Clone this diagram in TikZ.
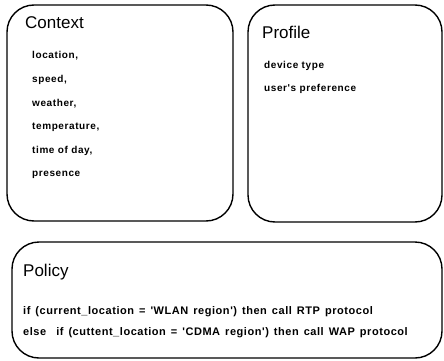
\documentclass[tikz,border=0pt]{standalone}
\usepackage{fontspec}
\setmainfont{Liberation Sans}
\newfontfamily\spacedfont[LetterSpace=6]{Liberation Sans}
\newfontfamily\polfont[LetterSpace=5]{Liberation Sans}
\newcommand\polspacing{\spaceskip=5pt plus 1pt\relax}
\begin{document}
\begin{tikzpicture}[x=1pt,y=-1pt,
  panel/.style={draw=black,line width=1.4pt,rounded corners=27pt},
  ttl/.style={anchor=base west,inner sep=0pt,font=\fontsize{17}{20}\selectfont},
  itm/.style={anchor=base west,inner sep=0pt,font=\spacedfont\fontsize{10}{12}\selectfont\bfseries},
  pol/.style={anchor=base west,inner sep=0pt,font=\polfont\fontsize{11}{13}\selectfont\bfseries\polspacing}]
\useasboundingbox (0,0) rectangle (444,361);
\draw[panel] (7,5) rectangle (233,221);
\draw[panel] (248,5) rectangle (442,222);
\draw[panel] (12,242) rectangle (442,358);
\node[ttl] (ctx) at (25,29) {Context};
\node[itm] (c1) at (32,59) {location,};
\node[itm] (c2) at (32,82.5) {speed,};
\node[itm] (c3) at (32,106) {weather,};
\node[itm] (c4) at (32,129.5) {temperature,};
\node[itm] (c5) at (32,153) {time of day,};
\node[itm] (c6) at (32,176) {presence};
\node[ttl] (prof) at (262,38) {Profile};
\node[itm] (p1) at (264,68) {device type};
\node[itm] (p2) at (264,91) {user's preference};
\node[ttl] (poli) at (23,276) {Policy};
\node[pol] (r1) at (23,314) {if (current\_location = 'WLAN region') then call RTP protocol};
\node[pol] (r2) at (23,335) {else\ \ if (cuttent\_location = 'CDMA region') then call WAP protocol};
\end{tikzpicture}
\end{document}
